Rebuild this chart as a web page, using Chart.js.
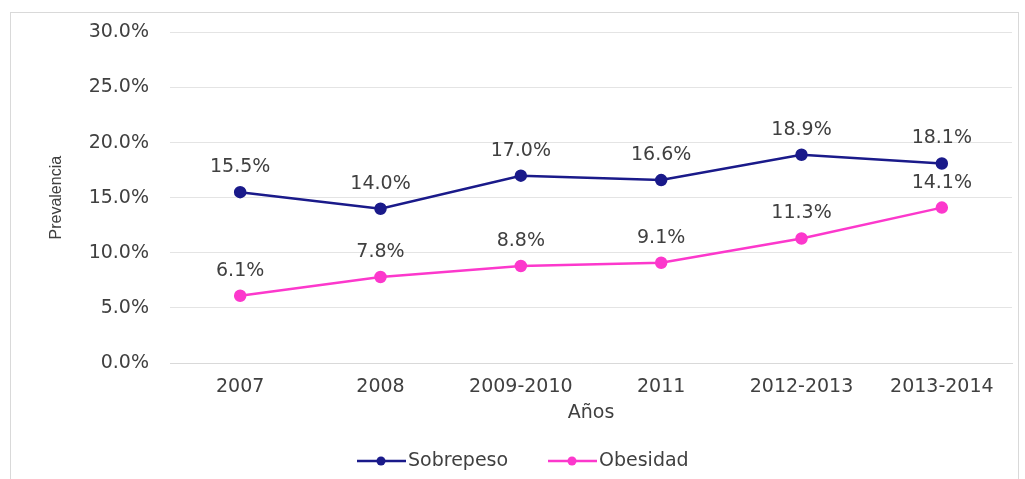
<!DOCTYPE html>
<html><head><meta charset="utf-8">
<script src="https://cdn.jsdelivr.net/npm/chart.js@4.4.1/dist/chart.umd.min.js"></script>
<style>html,body{margin:0;padding:0;background:#fff;}#wrap{width:1025px;height:479px;position:relative;}</style>
</head><body><div id="wrap"><canvas id="c" width="1025" height="479"></canvas></div>
<script>
const categories = ['2007','2008','2009-2010','2011','2012-2013','2013-2014'];
const sobrepeso = [15.5, 14.0, 17.0, 16.6, 18.9, 18.1];
const obesidad = [6.1, 7.8, 8.8, 9.1, 11.3, 14.1];
const seriesNames = ['Sobrepeso','Obesidad'];
const yTicks = [0,5,10,15,20,25,30];
const TXT = '#404040';
const FONT = "'DejaVu Sans', 'Liberation Sans', sans-serif";
const FS = 19;

const framePlugin = {
  id:'frame',
  beforeDraw(chart){
    const ctx = chart.ctx; ctx.save();
    ctx.fillStyle='#fff'; ctx.fillRect(0,0,chart.width,chart.height);
    ctx.strokeStyle='#d9d9d9'; ctx.lineWidth=1;
    ctx.strokeRect(10.5,12.5,1008,480);
    ctx.restore();
  }
};
const labelPlugin = {
  id:'vlabels',
  afterDatasetsDraw(chart){
    const ctx = chart.ctx; ctx.save();
    ctx.font = FS+'px '+FONT; ctx.fillStyle=TXT; ctx.textAlign='center'; ctx.textBaseline='middle';
    chart.data.datasets.forEach((ds,i)=>{
      chart.getDatasetMeta(i).data.forEach((pt,j)=>{
        ctx.fillText(ds.data[j].toFixed(1)+'%', pt.x, pt.y-25);
      });
    });
    ctx.restore();
  }
};
const legendPlugin = {
  id:'lineLegend',
  afterDraw(chart){
    const ctx = chart.ctx; ctx.save();
    ctx.font=FS+'px '+FONT; ctx.textBaseline='middle'; ctx.textAlign='left';
    const y = 461;
    const starts = [357, 548];
    chart.data.datasets.forEach((ds,i)=>{
      const x = starts[i];
      ctx.strokeStyle=ds.borderColor; ctx.lineWidth=2.5;
      ctx.beginPath(); ctx.moveTo(x,y); ctx.lineTo(x+49,y); ctx.stroke();
      ctx.fillStyle=ds.borderColor; ctx.beginPath(); ctx.arc(x+24,y,4.5,0,Math.PI*2); ctx.fill();
      ctx.fillStyle=TXT; ctx.fillText(ds.label, x+51, y);
    });
    ctx.restore();
  }
};

new Chart(document.getElementById('c'), {
  type:'line',
  data:{
    labels:categories,
    datasets:[
      {label:seriesNames[0], data:sobrepeso, borderColor:'#1a1a8a', backgroundColor:'#1a1a8a', borderWidth:2.5, pointRadius:5, pointHoverRadius:5, tension:0},
      {label:seriesNames[1], data:obesidad, borderColor:'#fc38cc', backgroundColor:'#fc38cc', borderWidth:2.5, pointRadius:5, pointHoverRadius:5, tension:0}
    ]
  },
  options:{
    responsive:false, animation:false, devicePixelRatio:1,
    layout:{padding:{left:47, right:13, top:26, bottom:56}},
    plugins:{legend:{display:false}, tooltip:{enabled:false}},
    scales:{
      x:{offset:true, grid:{display:false, tickLength:8}, border:{display:true,color:'#d9d9d9'},
         ticks:{color:TXT, font:{family:FONT,size:FS,lineHeight:1.0}, padding:7, maxRotation:0},
         title:{display:true, text:'Años', color:TXT, font:{family:FONT,size:FS,lineHeight:1.0}, padding:{top:0,bottom:0}}},
      y:{min:0, max:30, afterBuildTicks(s){ s.ticks = yTicks.map(v=>({value:v})); },
         afterFit(s){ s.width = 123; },
         grid:{color:'#e4e4e4', drawTicks:false}, border:{display:false},
         ticks:{color:TXT, font:{family:FONT,size:FS}, padding:21, callback:v=>v.toFixed(1)+'%'},
         title:{display:true, text:'Prevalencia', color:TXT, font:{family:"'Liberation Sans', sans-serif", size:16}, padding:0}}
    }
  },
  plugins:[framePlugin, labelPlugin, legendPlugin]
});
</script></body></html>
